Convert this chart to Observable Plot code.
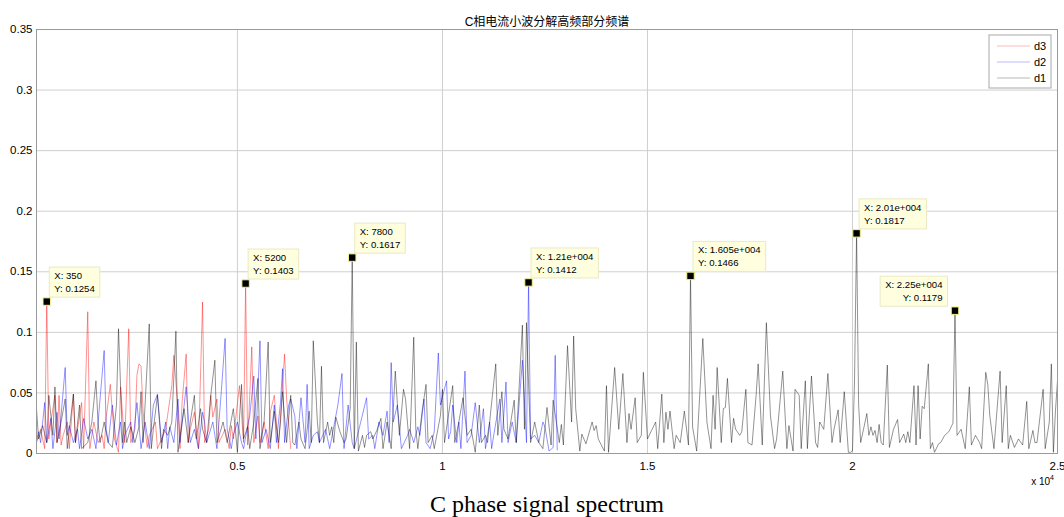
<!DOCTYPE html>
<html>
<head>
<meta charset="utf-8">
<script src="https://cdn.jsdelivr.net/npm/d3@7"></script>
<script src="https://cdn.jsdelivr.net/npm/@observablehq/plot@0.6"></script>
<style>
  html, body { margin: 0; padding: 0; background: #ffffff; }
  #chart svg { display: block; }
</style>
</head>
<body>
<div id="chart"></div>
<script>
// Wavelet detail bands of the phase-C current spectrum: [frequency (Hz), amplitude]
const d3Band = [
  [100,0.009],[200,0.020],[300,0.004],[350,0.1254],[400,0.012],[450,0.026],[550,0.048],[600,0.009],[650,0.048],[700,0.007],
  [750,0.015],[850,0.026],[900,0.004],[1000,0.049],[1050,0.009],[1200,0.042],[1250,0.004],[1350,0.117],[1400,0.004],[1500,0.026],
  [1600,0.009],[1700,0.015],[1750,0.004],[1800,0.030],[1900,0.057],[2000,0.012],[2100,0.001],[2150,0.055],[2250,0.009],[2350,0.103],
  [2400,0.009],[2500,0.020],[2550,0.065],[2600,0.074],[2650,0.072],[2700,0.034],[2800,0.005],[2850,0.015],[3000,0.026],[3050,0.004],
  [3150,0.012],[3250,0.020],[3400,0.056],[3450,0.081],[3550,0.037],[3600,0.004],[3650,0.042],[3750,0.082],[3800,0.009],[3850,0.020],
  [3950,0.034],[4050,0.004],[4150,0.125],[4200,0.009],[4300,0.020],[4350,0.048],[4400,0.030],[4500,0.045],[4550,0.009],[4700,0.020],
  [4800,0.004],[4850,0.023],[4900,0.012],[5050,0.056],[5150,0.009],[5200,0.1403],[5250,0.007],[5350,0.088],[5400,0.009],[5500,0.031],
  [5550,0.009],[5650,0.026],[5750,0.004],[5800,0.034],[5900,0.048],[6000,0.004],[6150,0.082],[6200,0.045],[6300,0.004]
];
const d2Band = [
  [100,0.010],[150,0.018],[200,0.009],[300,0.042],[350,0.009],[450,0.029],[500,0.004],[600,0.034],[650,0.012],[800,0.071],
  [850,0.015],[900,0.023],[1000,0.009],[1100,0.020],[1150,0.004],[1250,0.029],[1350,0.012],[1450,0.020],[1550,0.004],[1650,0.045],
  [1750,0.085],[1800,0.020],[1850,0.009],[1950,0.040],[2050,0.007],[2150,0.026],[2200,0.004],[2250,0.015],[2400,0.026],[2450,0.009],
  [2550,0.042],[2650,0.004],[2750,0.026],[2850,0.004],[2950,0.040],[3050,0.049],[3150,0.009],[3250,0.026],[3300,0.004],[3350,0.022],
  [3450,0.009],[3550,0.045],[3600,0.009],[3750,0.055],[3850,0.009],[3950,0.020],[4050,0.004],[4150,0.034],[4200,0.026],[4250,0.009],
  [4400,0.026],[4500,0.004],[4600,0.048],[4700,0.095],[4750,0.020],[4850,0.004],[4900,0.015],[5000,0.026],[5100,0.009],[5150,0.004],
  [5250,0.023],[5300,0.031],[5400,0.064],[5450,0.012],[5550,0.093],[5600,0.009],[5700,0.020],[5800,0.004],[5900,0.040],[5950,0.009],
  [6050,0.042],[6100,0.070],[6150,0.009],[6250,0.040],[6300,0.045],[6400,0.031],[6450,0.004],[6550,0.046],[6650,0.009],[6700,0.057],
  [6750,0.004],[6850,0.015],[6950,0.018],[7000,0.009],[7150,0.020],[7250,0.004],[7450,0.040],[7550,0.066],[7600,0.004],[7700,0.040],
  [7800,0.009],[7850,0.004],[7950,0.018],[8150,0.046],[8200,0.012],[8300,0.015],[8350,0.004],[8450,0.026],[8550,0.015],[8650,0.035],
  [8700,0.009],[8750,0.075],[8800,0.026],[8900,0.040],[9000,0.004],[9150,0.015],[9200,0.020],[9300,0.009],[9400,0.022],[9450,0.015],
  [9550,0.045],[9600,0.009],[9700,0.004],[9800,0.018],[9900,0.083],[9950,0.040],[10100,0.060],[10150,0.012],[10200,0.018],[10250,0.040],
  [10350,0.009],[10400,0.026],[10450,0.004],[10550,0.068],[10600,0.009],[10700,0.015],[10800,0.042],[10900,0.009],[11000,0.037],[11050,0.004],
  [11150,0.026],[11200,0.004],[11250,0.015],[11400,0.045],[11450,0.009],[11550,0.059],[11600,0.009],[11700,0.026],[11800,0.009],[11950,0.077],
  [12050,0.009],[12100,0.1412],[12150,0.012],[12250,0.015],[12350,0.009],[12450,0.026],[12500,0.022],[12600,0.002],[12700,0.005],[12750,0.081],
  [12800,0.003]
];
const d1Band = [
  [100,0.037],[150,0.012],[250,0.023],[350,0.009],[400,0.048],[500,0.015],[550,0.055],[600,0.009],[700,0.026],[800,0.045],
  [850,0.004],[1000,0.049],[1050,0.009],[1150,0.040],[1200,0.004],[1350,0.009],[1450,0.026],[1550,0.060],[1600,0.026],[1650,0.009],
  [1750,0.026],[1850,0.009],[1950,0.005],[2050,0.040],[2100,0.103],[2200,0.009],[2250,0.026],[2300,0.009],[2400,0.022],[2500,0.009],
  [2600,0.022],[2650,0.051],[2700,0.009],[2850,0.107],[2900,0.004],[2950,0.020],[3050,0.048],[3150,0.004],[3200,0.020],[3300,0.015],
  [3400,0.026],[3500,0.101],[3550,0.001],[3650,0.026],[3700,0.037],[3800,0.009],[3850,0.026],[3950,0.048],[4000,0.012],[4100,0.037],
  [4150,0.020],[4250,0.009],[4350,0.048],[4450,0.077],[4500,0.009],[4600,0.020],[4650,0.026],[4750,0.009],[4900,0.037],[5000,0.001],
  [5100,0.057],[5150,0.012],[5250,0.022],[5300,0.004],[5400,0.026],[5500,0.062],[5550,0.004],[5650,0.026],[5750,0.092],[5800,0.009],
  [5900,0.035],[6000,0.009],[6050,0.026],[6100,0.051],[6200,0.009],[6300,0.048],[6350,0.009],[6400,0.007],[6500,0.026],[6550,0.012],
  [6650,0.004],[6750,0.035],[6800,0.009],[6850,0.093],[6950,0.026],[7000,0.009],[7050,0.072],[7100,0.009],[7200,0.026],[7250,0.015],
  [7300,0.022],[7350,0.009],[7400,0.030],[7500,0.018],[7600,0.009],[7650,0.012],[7750,0.037],[7800,0.1617],[7850,0.004],[7900,0.092],
  [7950,0.002],[8050,0.015],[8100,0.005],[8150,0.015],[8250,0.018],[8300,0.012],[8400,0.019],[8500,0.029],[8550,0.004],[8650,0.026],
  [8700,0.015],[8750,0.004],[8850,0.068],[8950,0.015],[9050,0.053],[9100,0.045],[9200,0.004],[9300,0.096],[9350,0.020],[9400,0.004],
  [9500,0.034],[9600,0.057],[9650,0.009],[9750,0.015],[9800,0.004],[9950,0.031],[10000,0.053],[10050,0.009],[10250,0.056],[10300,0.009],
  [10400,0.026],[10500,0.046],[10600,0.015],[10700,0.020],[10800,0.001],[10900,0.040],[10950,0.009],[11050,0.015],[11100,0.009],[11200,0.042],
  [11300,0.074],[11350,0.015],[11450,0.051],[11500,0.020],[11600,0.012],[11750,0.044],[11800,0.009],[11950,0.106],[12000,0.020],[12050,0.108],
  [12150,0.009],[12250,0.026],[12350,0.009],[12450,0.004],[12550,0.038],[12650,0.007],[12700,0.044],[12850,0.009],[12900,0.024],[12950,0.007],
  [13050,0.089],[13150,0.026],[13200,0.097],[13250,0.037],[13350,0.002],[13400,0.016],[13500,0.008],[13650,0.026],[13700,0.019],[13750,0.023],
  [13800,0.012],[13950,0.002],[14000,0.056],[14050,0.001],[14200,0.071],[14300,0.020],[14400,0.066],[14500,0.009],[14550,0.033],[14600,0.020],
  [14700,0.046],[14750,0.009],[14850,0.015],[14900,0.067],[15000,0.012],[15100,0.019],[15200,0.026],[15250,0.004],[15350,0.049],[15400,0.009],
  [15450,0.034],[15500,0.020],[15550,0.035],[15650,0.004],[15700,0.015],[15800,0.009],[15900,0.035],[16000,0.007],[16050,0.1466],[16100,0.022],
  [16200,0.002],[16350,0.095],[16450,0.026],[16550,0.004],[16600,0.048],[16650,0.020],[16700,0.071],[16800,0.009],[16850,0.037],[16900,0.038],
  [16950,0.062],[17050,0.009],[17100,0.029],[17150,0.020],[17250,0.015],[17300,0.018],[17400,0.053],[17450,0.009],[17550,0.007],[17650,0.048],
  [17700,0.074],[17800,0.007],[17900,0.108],[18000,0.031],[18100,0.004],[18150,0.012],[18300,0.068],[18400,0.004],[18450,0.023],[18550,0.002],
  [18600,0.053],[18700,0.048],[18750,0.004],[18850,0.060],[18900,0.004],[19000,0.064],[19100,0.009],[19150,0.005],[19200,0.026],[19300,0.020],
  [19400,0.066],[19500,0.009],[19550,0.020],[19650,0.036],[19700,0.009],[19800,0.051],[19900,0.001],[19950,0.001],[20000,0.002],[20050,0.060],
  [20100,0.1817],[20150,0.040],[20200,0.009],[20350,0.033],[20400,0.015],[20450,0.022],[20500,0.015],[20550,0.019],[20600,0.009],[20650,0.024],
  [20700,0.009],[20750,0.007],[20850,0.073],[20900,0.005],[21000,0.020],[21100,0.028],[21150,0.009],[21250,0.016],[21300,0.009],[21350,0.018],
  [21400,0.009],[21500,0.056],[21550,0.007],[21600,0.056],[21650,0.012],[21700,0.039],[21750,0.037],[21850,0.074],[21900,0.004],[21950,0.009],
  [22000,0.001],[22100,0.008],[22150,0.009],[22250,0.015],[22350,0.018],[22450,0.025],[22500,0.1179],[22550,0.015],[22650,0.020],[22750,0.004],
  [22850,0.055],[22900,0.007],[23000,0.015],[23100,0.009],[23150,0.004],[23250,0.067],[23300,0.057],[23350,0.031],[23450,0.004],[23600,0.068],
  [23650,0.009],[23750,0.056],[23800,0.004],[23850,0.015],[23950,0.005],[24050,0.012],[24150,0.007],[24250,0.043],[24300,0.004],[24400,0.019],
  [24450,0.009],[24500,0.009],[24650,0.053],[24700,0.004],[24800,0.026],[24850,0.074],[24900,0.001],[24950,0.035],[25000,0.060]
];

const seriesNames = ["d3", "d2", "d1"];
const seriesColors = ["#ff0000", "#0000ff", "#000000"];

const xTicks = [5000, 10000, 15000, 20000, 25000];
const xTickLabels = ["0.5", "1", "1.5", "2", "2.5"];
const yTicks = [0, 0.05, 0.1, 0.15, 0.2, 0.25, 0.3, 0.35];
const yTickLabels = ["0", "0.05", "0.1", "0.15", "0.2", "0.25", "0.3", "0.35"];

// Data cursors: [series, frequency, box side]
const dataTips = [
  ["d3", 350, "right"], ["d3", 5200, "right"], ["d1", 7800, "right"], ["d2", 12100, "right"],
  ["d1", 16050, "right"], ["d1", 20100, "right"], ["d1", 22500, "left"]
];

const titleText = "C相电流小波分解高频部分频谱";
const captionText = "C phase signal spectrum";

const bands = {d3: d3Band, d2: d2Band, d1: d1Band};
const toRows = (name) => bands[name].map(([f, a]) => ({series: name, f, a}));

const tipRows = dataTips.map(([name, f, side]) => {
  const hit = bands[name].find(p => p[0] === f);
  return {series: name, f, a: hit[1], side};
});

const sansFont = "'Liberation Sans', Arial, Helvetica, sans-serif";

const chart = Plot.plot({
  width: 1064,
  height: 517,
  marginTop: 29,
  marginBottom: 64,
  marginLeft: 36,
  marginRight: 7,
  style: {fontFamily: sansFont, fontSize: "11.5px", background: "#ffffff", color: "#000000"},
  x: {
    domain: [100, 25000],
    ticks: xTicks,
    tickFormat: v => xTickLabels[xTicks.indexOf(v)],
    tickSize: 0,
    tickPadding: 8,
    label: null
  },
  y: {
    domain: [0, 0.35],
    ticks: yTicks,
    tickFormat: v => yTickLabels[yTicks.indexOf(v)],
    tickSize: 0,
    tickPadding: 4,
    label: null
  },
  marks: [
    Plot.ruleX(xTicks, {stroke: "#cfcfcf", strokeWidth: 1}),
    Plot.ruleY(yTicks, {stroke: "#cfcfcf", strokeWidth: 1}),
    ...seriesNames.map((name, i) =>
      Plot.line(toRows(name), {x: "f", y: "a", stroke: seriesColors[i], strokeWidth: 0.5, strokeOpacity: 0.85})
    ),
    Plot.frame({stroke: "#9a9a9a"}),
    Plot.dot(tipRows, {x: "f", y: "a", symbol: "square", r: 4.2, fill: "#000000", stroke: "#f2f28c", strokeWidth: 1}),
    Plot.text([titleText], {text: d => d, frameAnchor: "top", dy: -12, fontSize: 12, fontFamily: "'Liberation Sans', 'Noto Sans CJK SC', sans-serif"}),
    Plot.text([captionText], {text: d => d, frameAnchor: "bottom", dy: 58, fontSize: 24, fontFamily: "'Liberation Serif', 'Times New Roman', serif"})
  ]
});

document.getElementById("chart").appendChild(chart);

// Helpers to place overlays through the chart's own scales
function scaleFn(s) {
  return s.apply ? (v => s.apply(v)) : d3.scaleLinear(s.domain, s.range);
}
const sx = scaleFn(chart.scale("x"));
const sy = scaleFn(chart.scale("y"));
const xr = chart.scale("x").range;
const yr = chart.scale("y").range;
const svg = d3.select(chart);

// Exponent label under the x axis
const expo = svg.append("text")
  .attr("x", xr[1] - 3).attr("y", yr[0] + 32)
  .attr("text-anchor", "end")
  .attr("font-family", sansFont).attr("font-size", 10);
expo.append("tspan").text("x 10");
expo.append("tspan").attr("dy", -5).attr("font-size", 7).text("4");

// Legend box in the upper-right corner
const legW = 62, legH = 53;
const legX = xr[1] - 6 - legW, legY = yr[1] + 6;
const leg = svg.append("g").attr("font-family", sansFont).attr("font-size", 11).attr("text-anchor", "start");
leg.append("rect").attr("x", legX).attr("y", legY).attr("width", legW).attr("height", legH)
  .attr("fill", "#ffffff").attr("stroke", "#a8a8a8").attr("stroke-width", 1);
seriesNames.forEach((name, i) => {
  const ly = legY + 11 + i * 16;
  leg.append("line").attr("x1", legX + 8).attr("x2", legX + 41).attr("y1", ly).attr("y2", ly)
    .attr("stroke", seriesColors[i]).attr("stroke-width", 0.5).attr("stroke-opacity", 0.55);
  leg.append("text").attr("x", legX + 45).attr("y", ly + 4).text(name);
});

// Number formatting in the style of a data cursor (4 significant digits)
function cursorNum(v) {
  if (Math.abs(v) >= 1e4) {
    const e = Math.floor(Math.log10(Math.abs(v)));
    const m = +(v / Math.pow(10, e)).toPrecision(4);
    return m + "e+" + String(e).padStart(3, "0");
  }
  return String(+v.toPrecision(4));
}

// Data cursor boxes
const tipLayer = svg.append("g").attr("font-family", sansFont).attr("font-size", 9.6).attr("text-anchor", "start");
tipRows.forEach(t => {
  const cx = sx(t.f), cy = sy(t.a);
  const grp = tipLayer.append("g");
  const rect = grp.append("rect");
  const l1 = grp.append("text").text("X: " + cursorNum(t.f));
  const l2 = grp.append("text").text("Y: " + cursorNum(t.a));
  const w = Math.max(l1.node().getComputedTextLength(), l2.node().getComputedTextLength()) + 10;
  const h = 30;
  const left = t.side === "left" ? cx - 7 - w : cx + 3;
  const top = cy - 4 - h;
  rect.attr("x", left).attr("y", top).attr("width", w).attr("height", h)
    .attr("fill", "#ffffe0").attr("stroke", "#e9e9c4").attr("stroke-width", 1);
  if (t.side === "left") {
    l1.attr("x", left + w - 5).attr("text-anchor", "end");
    l2.attr("x", left + w - 5).attr("text-anchor", "end");
  } else {
    l1.attr("x", left + 5).attr("text-anchor", "start");
    l2.attr("x", left + 5).attr("text-anchor", "start");
  }
  l1.attr("y", top + 12);
  l2.attr("y", top + 25);
});
</script>
</body>
</html>
